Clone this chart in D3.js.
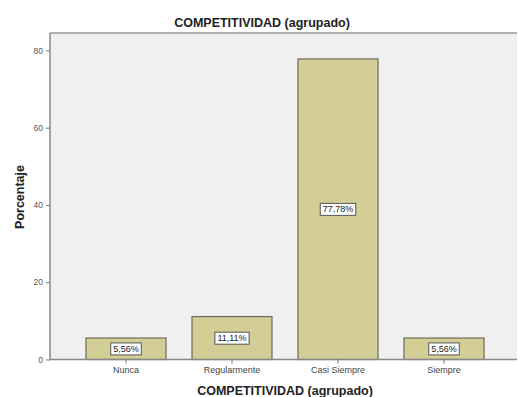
<!DOCTYPE html>
<html>
<head>
<meta charset="utf-8">
<script src="https://cdn.jsdelivr.net/npm/d3@7"></script>
<style>
  html, body { margin: 0; padding: 0; background: #fff; }
  svg { display: block; font-family: Arial, "Liberation Sans", sans-serif; }
</style>
</head>
<body>
<svg id="chart" width="518" height="397"></svg>
<script>
// Grouped competitiveness responses, percentage of respondents
const categories = ["Nunca", "Regularmente", "Casi Siempre", "Siempre"];
const percentages = [5.56, 11.11, 77.78, 5.56];
const valueLabels = ["5,56%", "11,11%", "77,78%", "5,56%"];
const yTicks = [0, 20, 40, 60, 80];
const chartTitle = "COMPETITIVIDAD (agrupado)";
const xTitle = "COMPETITIVIDAD (agrupado)";
const yTitle = "Porcentaje";

const svg = d3.select("#chart");
const plot = { left: 50, right: 517, top: 33, bottom: 359.5 };

const x = d3.scaleBand()
  .domain(categories)
  .range([73, 497])
  .paddingInner(0.245)
  .paddingOuter(0.1225);

const y = d3.scaleLinear()
  .domain([0, 84.5])
  .range([plot.bottom, plot.top]);

// plot background and frame
svg.append("rect")
  .attr("x", plot.left).attr("y", plot.top)
  .attr("width", plot.right - plot.left).attr("height", plot.bottom - plot.top)
  .attr("fill", "#f0f0f0");
svg.append("line")
  .attr("x1", plot.left).attr("x2", plot.right)
  .attr("y1", plot.top).attr("y2", plot.top)
  .attr("stroke", "#999").attr("stroke-width", 1.5);

// bars
svg.append("g").selectAll("rect")
  .data(categories)
  .join("rect")
  .attr("x", d => x(d))
  .attr("width", x.bandwidth())
  .attr("y", (d, i) => y(percentages[i]))
  .attr("height", (d, i) => y(0) - y(percentages[i]))
  .attr("fill", "#d3cd96")
  .attr("stroke", "#6e6d58")
  .attr("stroke-width", 1.2);

// value labels in boxes at the middle of each bar
const lab = svg.append("g").selectAll("g")
  .data(categories)
  .join("g")
  .attr("transform", (d, i) => `translate(${x(d) + x.bandwidth() / 2},${(y(percentages[i]) + y(0)) / 2})`);
lab.append("text")
  .attr("text-anchor", "middle")
  .attr("dy", "0.35em")
  .attr("font-size", 9)
  .attr("fill", "#222")
  .text((d, i) => valueLabels[i]);
lab.each(function() {
  const g = d3.select(this);
  const bb = g.select("text").node().getBBox();
  g.insert("rect", "text")
    .attr("x", bb.x - 2.5).attr("y", bb.y - 1)
    .attr("width", bb.width + 5).attr("height", bb.height + 2)
    .attr("fill", "#fff")
    .attr("stroke", "#555").attr("stroke-width", 1);
});

// y axis
const yAxis = svg.append("g")
  .attr("transform", `translate(${plot.left},0)`)
  .call(d3.axisLeft(y).tickValues(yTicks).tickSize(4).tickPadding(3));
yAxis.select(".domain").attr("stroke", "#888").attr("stroke-width", 1.5)
  .attr("d", `M0,${plot.top}V${plot.bottom}`);
yAxis.selectAll(".tick line").attr("stroke", "#777");
yAxis.selectAll(".tick text").attr("font-size", 8.5).attr("fill", "#555");

// x axis
const xAxis = svg.append("g")
  .attr("transform", `translate(0,${plot.bottom})`)
  .call(d3.axisBottom(x).tickSize(4).tickPadding(3));
xAxis.select(".domain").attr("stroke", "#888").attr("stroke-width", 1.5)
  .attr("d", `M${plot.left},0H${plot.right}`);
xAxis.selectAll(".tick line").attr("stroke", "#777");
xAxis.selectAll(".tick text").attr("font-size", 9).attr("fill", "#444");

// titles
svg.append("text")
  .attr("x", 262).attr("y", 27)
  .attr("text-anchor", "middle")
  .attr("font-size", 12.5).attr("font-weight", "bold").attr("fill", "#222")
  .text(chartTitle);
svg.append("text")
  .attr("x", 285).attr("y", 395)
  .attr("text-anchor", "middle")
  .attr("font-size", 12.5).attr("font-weight", "bold").attr("fill", "#222")
  .text(xTitle);
svg.append("text")
  .attr("transform", "translate(24,197) rotate(-90)")
  .attr("text-anchor", "middle")
  .attr("font-size", 12.5).attr("font-weight", "bold").attr("fill", "#222")
  .text(yTitle);
</script>
</body>
</html>
